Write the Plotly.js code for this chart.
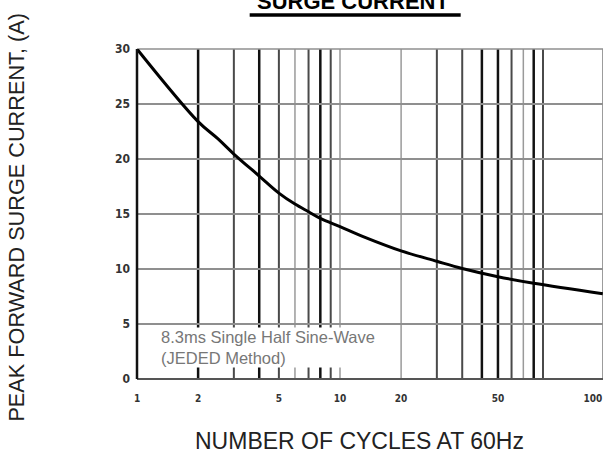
<!DOCTYPE html>
<html>
<head>
<meta charset="utf-8">
<script src="https://cdn.plot.ly/plotly-3.0.1.min.js"></script>
<style>html,body{margin:0;padding:0;background:#fff;}#chart{width:611px;height:456px;}</style>
</head>
<body>
<div id="chart"></div>
<script>
var cycles  = [1, 2, 2.5, 3, 4, 5, 6, 7, 8, 10, 13, 20, 30, 40, 60, 90, 197];
var current = [30, 23.4, 21.85, 20.45, 18.45, 16.9, 15.9, 15.2, 14.6, 13.85, 12.95, 11.65, 10.7, 10.05, 9.3, 8.7, 7.75];

// X tick labels as printed, and where they sit on the grid
var xTickVals = [1, 2, 5, 10, 20, 60, 176];
var xTickText = ['1', '2', '5', '10', '20', '50', '100'];

// Vertical grid lines
var gridBlack = [2, 4, 8, 50, 60, 90];
var gridDark  = [3, 5, 7, 9, 30, 40, 70, 100];
var gridLight = [6, 10, 20, 80, 197];

var yTickVals = [0, 5, 10, 15, 20, 25, 30];

var shapes = [];
function vlines(vals, color, width) {
  vals.forEach(function (v) {
    shapes.push({type: 'line', xref: 'x', yref: 'paper', x0: v, x1: v, y0: 0, y1: 1,
      line: {color: color, width: width}, layer: 'below'});
  });
}
vlines(gridLight, '#9a9a9a', 1.5);
vlines(gridDark, '#4a4a4a', 2);
vlines(gridBlack, '#111111', 2.5);
// title underline
shapes.push({type: 'line', xref: 'paper', yref: 'paper', x0: 0.2418, x1: 0.6946, y0: 1.103, y1: 1.103,
  line: {color: '#000', width: 3.5}});

var trace = {
  x: cycles, y: current, type: 'scatter', mode: 'lines',
  line: {color: '#000', width: 3, shape: 'spline', smoothing: 1.0},
  hoverinfo: 'skip', showlegend: false
};

var tickFont = {family: '"DejaVu Sans Condensed", "Liberation Sans Narrow", Arial, sans-serif',
  size: 10, color: '#333', weight: 'bold'};

var layout = {
  width: 611, height: 456,
  margin: {l: 137, r: 8, t: 49, b: 77},
  paper_bgcolor: '#fff', plot_bgcolor: '#fff',
  showlegend: false,
  xaxis: {
    type: 'log', range: [0, Math.log10(197.5)],
    tickvals: xTickVals, ticktext: xTickText,
    tickfont: tickFont, ticks: '', ticklabelstandoff: 12,
    showgrid: false, zeroline: false,
    showline: false, fixedrange: true
  },
  yaxis: {
    range: [0, 30], tickvals: yTickVals,
    tickfont: {family: tickFont.family, size: 12, color: '#333', weight: 'bold'},
    ticks: '', ticklabelstandoff: 6,
    showgrid: true, gridcolor: '#8f8f8f', gridwidth: 1.5,
    zeroline: true, zerolinecolor: '#555', zerolinewidth: 2,
    showline: false, fixedrange: true
  },
  annotations: [
    {text: '<b>SURGE CURRENT</b>', xref: 'paper', yref: 'paper', x: 0.464, y: 1.143,
      xanchor: 'center', yanchor: 'middle', showarrow: false,
      font: {family: 'Arial, "Liberation Sans", sans-serif', size: 22, color: '#000'}},
    {text: '8.3ms Single Half Sine-Wave<br>(JEDED Method)', xref: 'paper', yref: 'paper',
      x: 0.0487, y: 0.0955, xanchor: 'left', yanchor: 'middle', align: 'left', showarrow: false,
      bgcolor: '#fff', borderpad: 0,
      font: {family: 'Arial, "Liberation Sans", sans-serif', size: 16.5, color: '#777'}},
    {text: 'NUMBER OF CYCLES AT 60Hz', xref: 'paper', yref: 'paper', x: 0.478, y: -0.188,
      xanchor: 'center', yanchor: 'middle', showarrow: false,
      font: {family: 'Arial, "Liberation Sans", sans-serif', size: 23, color: '#222'}},
    {text: 'PEAK FORWARD SURGE CURRENT, (A)', xref: 'paper', yref: 'paper', x: -0.259, y: 0.49,
      xanchor: 'center', yanchor: 'middle', textangle: -90, showarrow: false,
      font: {family: 'Arial, "Liberation Sans", sans-serif', size: 21.7, color: '#222'}}
  ],
  shapes: shapes
};

// frame lines: left (black), top (gray)
layout.shapes.push({type: 'line', xref: 'paper', yref: 'paper', x0: 0, x1: 0, y0: 0, y1: 1,
  line: {color: '#111', width: 2.5}});
layout.shapes.push({type: 'line', xref: 'paper', yref: 'paper', x0: 0, x1: 1, y0: 1, y1: 1,
  line: {color: '#8f8f8f', width: 1.5}, layer: 'below'});

Plotly.newPlot('chart', [trace], layout, {displayModeBar: false, staticPlot: true});
</script>
</body>
</html>
